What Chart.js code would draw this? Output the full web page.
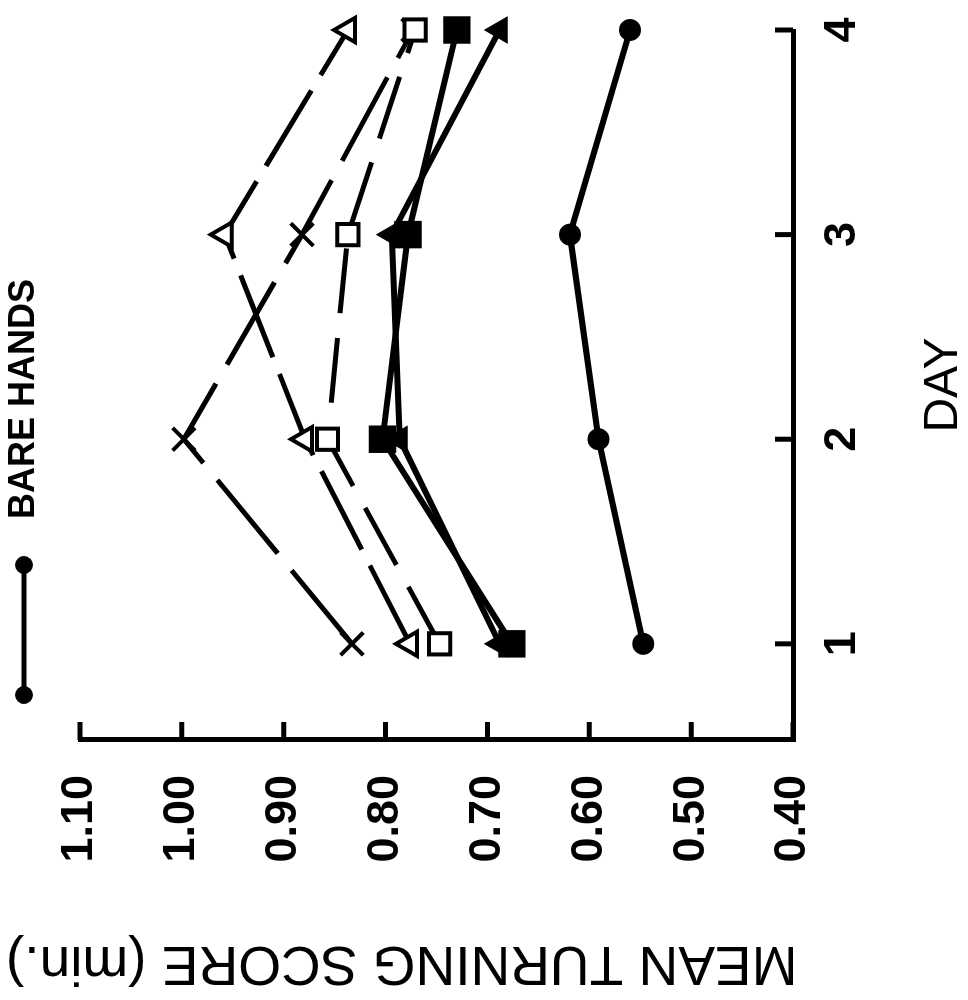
<!DOCTYPE html>
<html>
<head>
<meta charset="utf-8">
<title>Mean turning score by day</title>
<script src="https://cdn.jsdelivr.net/npm/chart.js@4"></script>
<style>
    html, body { margin: 0; padding: 0; background: #fff; overflow: hidden; }
    /* the figure is printed on its side: draw it upright, then turn it */
    #wrap {
        position: absolute;
        left: -16px;
        top: 16px;
        width: 1000px;
        height: 968px;
        transform: rotate(-90deg);
    }
    #turningChart { display: block; width: 1000px; height: 968px; }
</style>
</head>
<body>
<div id="wrap"><canvas id="turningChart" width="1000" height="968"></canvas></div>
<script>
const days = [1, 2, 3, 4];
const dayTicks = [1, 2, 3, 4];
const scoreTicks = [0.40, 0.50, 0.60, 0.70, 0.80, 0.90, 1.00, 1.10];

const bareHands      = [0.547, 0.591, 0.619, 0.560];
const filledSquare   = [0.676, 0.803, 0.778, 0.730];
const filledTriangle = [0.688, 0.786, 0.794, 0.688];
const openSquare     = [0.747, 0.857, 0.837, 0.771];
const openTriangle   = [0.776, 0.879, 0.958, 0.837];
const crossMark      = [0.833, 0.998, 0.882, 0.773];

const FONT = 'Liberation Sans';

function points(values) {
    return days.map((d, i) => ({ x: d, y: values[i] }));
}

// legend symbol: a line with a dot on each end (blank strip on the left nudges the legend right)
function legendIcon() {
    const c = document.createElement('canvas');
    c.width = 214;
    c.height = 24;
    const g = c.getContext('2d');
    g.strokeStyle = '#000';
    g.fillStyle = '#000';
    g.lineWidth = 5;
    g.beginPath();
    g.moveTo(56, 12);
    g.lineTo(186, 12);
    g.stroke();
    [56, 186].forEach(x => {
        g.beginPath();
        g.arc(x, 12, 9, 0, Math.PI * 2);
        g.fill();
    });
    return c;
}

// keep room between the legend and the plot
const legendRoom = {
    id: 'legendRoom',
    afterInit(chart) {
        const fit = chart.legend.fit;
        chart.legend.fit = function () { fit.call(this); this.height = 74; };
    }
};

// tick marks point into the plot
const inwardTicks = {
    id: 'inwardTicks',
    afterDraw(chart) {
        const { ctx, chartArea: area, scales: { x, y } } = chart;
        ctx.save();
        ctx.strokeStyle = '#000';
        ctx.lineWidth = 5;
        ctx.beginPath();
        x.ticks.forEach(t => {
            const px = x.getPixelForValue(t.value);
            ctx.moveTo(px, area.bottom);
            ctx.lineTo(px, area.bottom - 18);
        });
        y.ticks.forEach(t => {
            const py = y.getPixelForValue(t.value);
            ctx.moveTo(area.left, py);
            ctx.lineTo(area.left + 18, py);
        });
        ctx.stroke();
        ctx.restore();
    }
};

Chart.defaults.color = '#000';
Chart.defaults.font.family = FONT;

const solid = { borderColor: '#000', borderWidth: 6, pointBorderColor: '#000', pointBackgroundColor: '#000', showLine: true, clip: false };
const dashed = { borderColor: '#000', borderWidth: 5, pointBorderColor: '#000', pointBackgroundColor: '#fff', pointBorderWidth: 4, showLine: true, clip: false };

new Chart(document.getElementById('turningChart'), {
    type: 'scatter',
    data: {
        datasets: [
            { ...solid, label: 'BARE HANDS', data: points(bareHands), pointStyle: 'circle', pointRadius: 8 },
            { ...solid, label: 'Filled square', data: points(filledSquare), pointStyle: 'rect', pointRadius: 18, pointBorderWidth: 2 },
            { ...solid, label: 'Filled triangle', data: points(filledTriangle), pointStyle: 'triangle', pointRadius: 14, pointBorderWidth: 2 },
            { ...dashed, label: 'Open square', data: points(openSquare), pointStyle: 'rect', pointRadius: 15, borderDash: [65, 25] },
            { ...dashed, label: 'Open triangle', data: points(openTriangle), pointStyle: 'triangle', pointRadius: 14, borderDash: [88, 18] },
            { ...dashed, label: 'Cross', data: points(crossMark), pointStyle: 'crossRot', pointRadius: 16, borderDash: [95, 22] }
        ]
    },
    options: {
        responsive: false,
        animation: false,
        events: [],
        layout: { padding: { top: 6, right: 30 } },
        elements: { line: { tension: 0 } },
        scales: {
            x: {
                type: 'linear',
                min: 0.53,
                max: 4,
                afterBuildTicks: s => { s.ticks = dayTicks.map(v => ({ value: v })); },
                afterFit: s => { s.height = 175; },
                grid: { display: false, drawTicks: false },
                border: { display: true, color: '#000', width: 5 },
                ticks: {
                    maxRotation: 0,
                    padding: 0,
                    // tall line box keeps the labels off the axis without widening the side padding
                    font: { size: 45, weight: 'bold', lineHeight: 2.2 },
                    callback: v => String(v)
                },
                title: {
                    display: true,
                    text: 'DAY',
                    font: { size: 48, lineHeight: 1 },
                    padding: { top: 0, bottom: 0 }
                }
            },
            y: {
                type: 'linear',
                min: 0.4,
                max: 1.1,
                afterBuildTicks: s => { s.ticks = scoreTicks.map(v => ({ value: v })); },
                afterFit: s => { s.width = 195; },
                grid: { display: false, drawTicks: false },
                border: { display: true, color: '#000', width: 5 },
                ticks: {
                    padding: 35,
                    font: { size: 45, weight: 'bold', lineHeight: 1 },
                    callback: v => v.toFixed(2)
                }
            }
        },
        plugins: {
            tooltip: { enabled: false },
            title: {
                display: true,
                text: 'MEAN TURNING SCORE (min.)',
                position: 'left',
                align: 'end',
                font: { size: 55, weight: 'normal', lineHeight: 1 },
                padding: { top: 10, bottom: 0 }
            },
            legend: {
                position: 'top',
                labels: {
                    filter: item => item.datasetIndex === 0,
                    usePointStyle: true,
                    pointStyle: legendIcon(),
                    pointStyleWidth: 214,
                    padding: 0,
                    font: { size: 36, weight: 'bold' }
                }
            }
        }
    },
    plugins: [legendRoom, inwardTicks]
});
</script>
</body>
</html>
